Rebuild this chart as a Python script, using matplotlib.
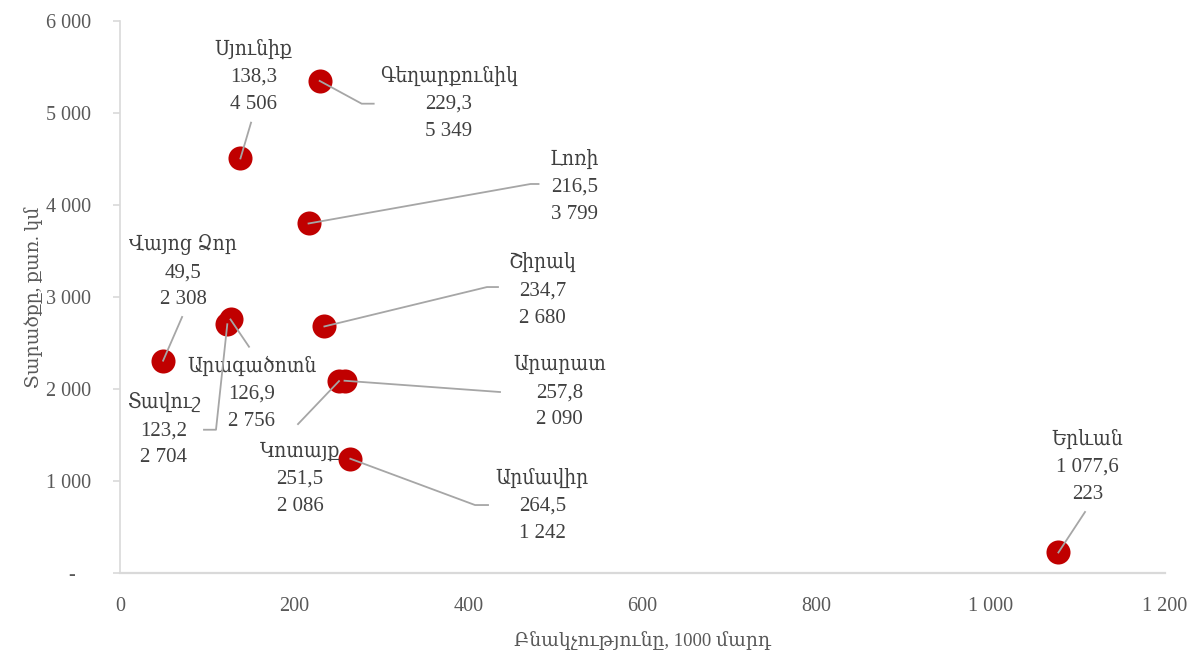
import matplotlib
matplotlib.use('Agg')
import matplotlib.pyplot as plt
from matplotlib.lines import Line2D
from matplotlib.transforms import IdentityTransform
from matplotlib.ticker import FixedLocator, FuncFormatter

plt.rcParams['font.family'] = ['Liberation Serif', 'DejaVu Serif', 'DejaVu Sans']

# Data: population (thousand people) and area (sq. km) by marz
regions = ['Սյունիք', 'Գեղարքունիկ', 'Լոռի', 'Վայոց Ձոր', 'Շիրակ', 'Արագածոտն',
           'Տավուշ', 'Արարատ', 'Կոտայք', 'Արմավիր', 'Երևան']
population = [138.3, 229.3, 216.5, 49.5, 234.7, 126.9, 123.2, 257.8, 251.5, 264.5, 1077.6]
area = [4506, 5349, 3799, 2308, 2680, 2756, 2704, 2090, 2086, 1242, 223]

x_ticks = [0, 200, 400, 600, 800, 1000, 1200]
y_ticks = [0, 1000, 2000, 3000, 4000, 5000, 6000]

# label placement, in pixels from the marker (x right, y up)
text_offsets = [(13, 82), (129, -23), (266, 37), (20, 89), (218, 36), (21, -74),
                (-64, -106), (215, -12), (-39, -98), (192, -47), (29, 86)]
leader_paths = [
    [(0, 0), (10.6, 35.8)],
    [(0, 0), (42, -22.8), (54, -22.8)],
    [(0, 0), (222, 39.5), (230, 39.5)],
    [(0, 0), (19, 43.7)],
    [(0, 0), (162.6, 39.4), (173.6, 39.4)],
    [(0, 0), (18.5, -27.3)],
    [(0, 0), (-11.3, -105.5), (-23.3, -105.5)],
    [(0, 0), (155.5, -11.3)],
    [(0, 0), (-41, -43)],
    [(0, 0), (124.7, -46.3), (137.7, -46.3)],
    [(0, 0), (26.6, 40.5)],
]


def thousands(v, decimals=0):
    s = f'{v:,.{decimals}f}'
    return s.replace(',', ' ').replace('.', ',')


fig = plt.figure(figsize=(11.99, 6.52), dpi=100)
ax = fig.add_axes([120 / 1199, 1 - 573 / 652, 1045 / 1199, 552 / 652])

ax.set_xlim(0, 1200)
ax.set_ylim(0, 6000)

grey_line = '#D9D9D9'
for side in ['top', 'right']:
    ax.spines[side].set_visible(False)
ax.spines['left'].set_color(grey_line)
ax.spines['bottom'].set_color(grey_line)
ax.spines['left'].set_linewidth(1.2)
ax.spines['bottom'].set_linewidth(1.6)

ax.xaxis.set_major_locator(FixedLocator(x_ticks))
ax.yaxis.set_major_locator(FixedLocator(y_ticks))
ax.xaxis.set_major_formatter(FuncFormatter(lambda v, p: thousands(v)))
ax.yaxis.set_major_formatter(FuncFormatter(lambda v, p: '-   ' if v == 0 else thousands(v)))
ax.tick_params(axis='x', length=0, pad=17, labelsize=14.5, labelcolor='#595959')
ax.tick_params(axis='y', length=5, width=1.2, color=grey_line, pad=16,
               labelsize=14.5, labelcolor='#595959')

ax.set_xlabel('Բնակչությունը, 1000 մարդ', fontsize=13.5, color='#595959', labelpad=11)
ax.set_ylabel('Տարածքը, քառ. կմ', fontsize=13.5, color='#595959', labelpad=2)

ax.scatter(population, area, s=300, color='#C00000', zorder=3, linewidths=0)

# leader lines and labels, drawn in pixel space
for i, name in enumerate(regions):
    px, py = ax.transData.transform((population[i], area[i]))
    xs = [px + dx for dx, dy in leader_paths[i]]
    ys = [py + dy for dx, dy in leader_paths[i]]
    fig.add_artist(Line2D(xs, ys, transform=IdentityTransform(), color='#A6A6A6',
                          linewidth=1.3, zorder=4))
    label = f'{name}\n{thousands(population[i], 1)}\n{thousands(area[i])}'
    ax.annotate(label, xy=(population[i], area[i]), xytext=text_offsets[i],
                textcoords='offset pixels', ha='center', va='center',
                multialignment='center', fontsize=15, fontstretch='condensed',
                color='#404040', linespacing=1.58, annotation_clip=False)

fig.savefig('out.png', dpi=100)
